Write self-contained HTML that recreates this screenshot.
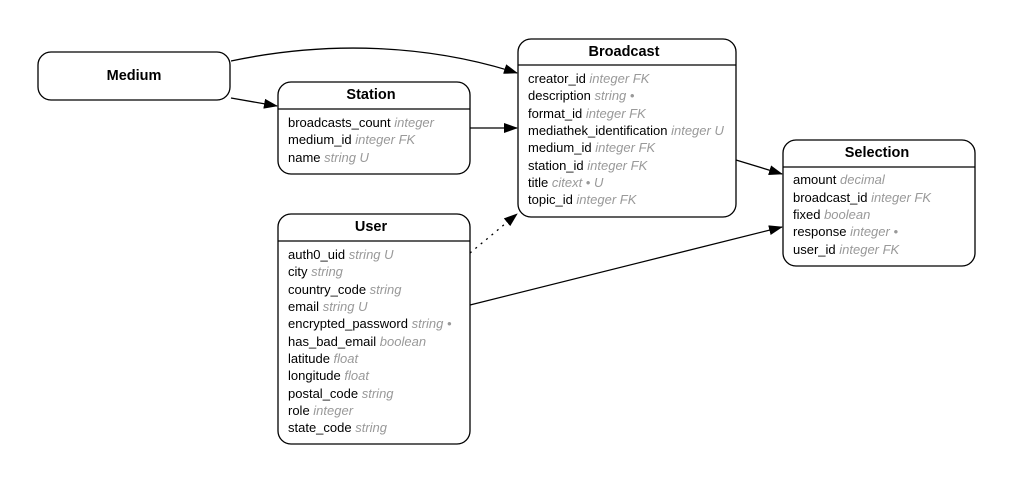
<!DOCTYPE html>
<html><head><meta charset="utf-8"><style>
html,body{margin:0;padding:0;background:#fff;}
svg{display:block;}
text{font-family:"Liberation Sans",Arial,sans-serif;font-size:13px;fill:#000;}
.t{font-weight:bold;font-size:14.5px;}
.g{fill:#999;font-style:italic;}
.b{fill:#fff;stroke:#000;stroke-width:1.3;}
.l{stroke:#000;stroke-width:1.3;fill:none;}
</style></head><body>
<svg width="1014" height="484" viewBox="0 0 1014 484" xmlns="http://www.w3.org/2000/svg">
<defs><marker id="a" markerWidth="14" markerHeight="10" refX="13" refY="5" orient="auto" markerUnits="userSpaceOnUse"><path d="M0,0 L14,5 L0,10 z" fill="#000"/></marker></defs>
<path class="l" d="M231,61 C330,40 430,45 517,73" marker-end="url(#a)"/>
<path class="l" d="M231,98 L277,106" marker-end="url(#a)"/>
<path class="l" d="M470,128 L517,128" marker-end="url(#a)"/>
<path class="l" d="M470,253 L517,214" stroke-dasharray="2,5" marker-end="url(#a)"/>
<path class="l" d="M736,160 L782,174" marker-end="url(#a)"/>
<path class="l" d="M470,305 L782,227" marker-end="url(#a)"/>
<rect class="b" x="38" y="52" width="192" height="48" rx="13"/>
<text class="t" x="134" y="80" text-anchor="middle">Medium</text>
<rect class="b" x="278" y="82" width="192" height="92" rx="13"/>
<line class="l" x1="278" y1="109" x2="470" y2="109"/>
<text class="t" x="371" y="99" text-anchor="middle">Station</text>
<text x="288" y="127">broadcasts_count <tspan class="g">integer</tspan></text>
<text x="288" y="144">medium_id <tspan class="g">integer FK</tspan></text>
<text x="288" y="162">name <tspan class="g">string U</tspan></text>
<rect class="b" x="518" y="39" width="218" height="178" rx="13"/>
<line class="l" x1="518" y1="65" x2="736" y2="65"/>
<text class="t" x="624" y="56" text-anchor="middle">Broadcast</text>
<text x="528" y="83">creator_id <tspan class="g">integer FK</tspan></text>
<text x="528" y="100">description <tspan class="g">string •</tspan></text>
<text x="528" y="118">format_id <tspan class="g">integer FK</tspan></text>
<text x="528" y="135">mediathek_identification <tspan class="g">integer U</tspan></text>
<text x="528" y="152">medium_id <tspan class="g">integer FK</tspan></text>
<text x="528" y="170">station_id <tspan class="g">integer FK</tspan></text>
<text x="528" y="187">title <tspan class="g">citext •  U</tspan></text>
<text x="528" y="204">topic_id <tspan class="g">integer FK</tspan></text>
<rect class="b" x="278" y="214" width="192" height="230" rx="13"/>
<line class="l" x1="278" y1="241" x2="470" y2="241"/>
<text class="t" x="371" y="231" text-anchor="middle">User</text>
<text x="288" y="259">auth0_uid <tspan class="g">string U</tspan></text>
<text x="288" y="276">city <tspan class="g">string</tspan></text>
<text x="288" y="294">country_code <tspan class="g">string</tspan></text>
<text x="288" y="311">email <tspan class="g">string U</tspan></text>
<text x="288" y="328">encrypted_password <tspan class="g">string •</tspan></text>
<text x="288" y="346">has_bad_email <tspan class="g">boolean</tspan></text>
<text x="288" y="363">latitude <tspan class="g">float</tspan></text>
<text x="288" y="380">longitude <tspan class="g">float</tspan></text>
<text x="288" y="398">postal_code <tspan class="g">string</tspan></text>
<text x="288" y="415">role <tspan class="g">integer</tspan></text>
<text x="288" y="432">state_code <tspan class="g">string</tspan></text>
<rect class="b" x="783" y="140" width="192" height="126" rx="13"/>
<line class="l" x1="783" y1="167" x2="975" y2="167"/>
<text class="t" x="877" y="157" text-anchor="middle">Selection</text>
<text x="793" y="184">amount <tspan class="g">decimal</tspan></text>
<text x="793" y="202">broadcast_id <tspan class="g">integer FK</tspan></text>
<text x="793" y="219">fixed <tspan class="g">boolean</tspan></text>
<text x="793" y="236">response <tspan class="g">integer •</tspan></text>
<text x="793" y="254">user_id <tspan class="g">integer FK</tspan></text>
</svg>
</body></html>
